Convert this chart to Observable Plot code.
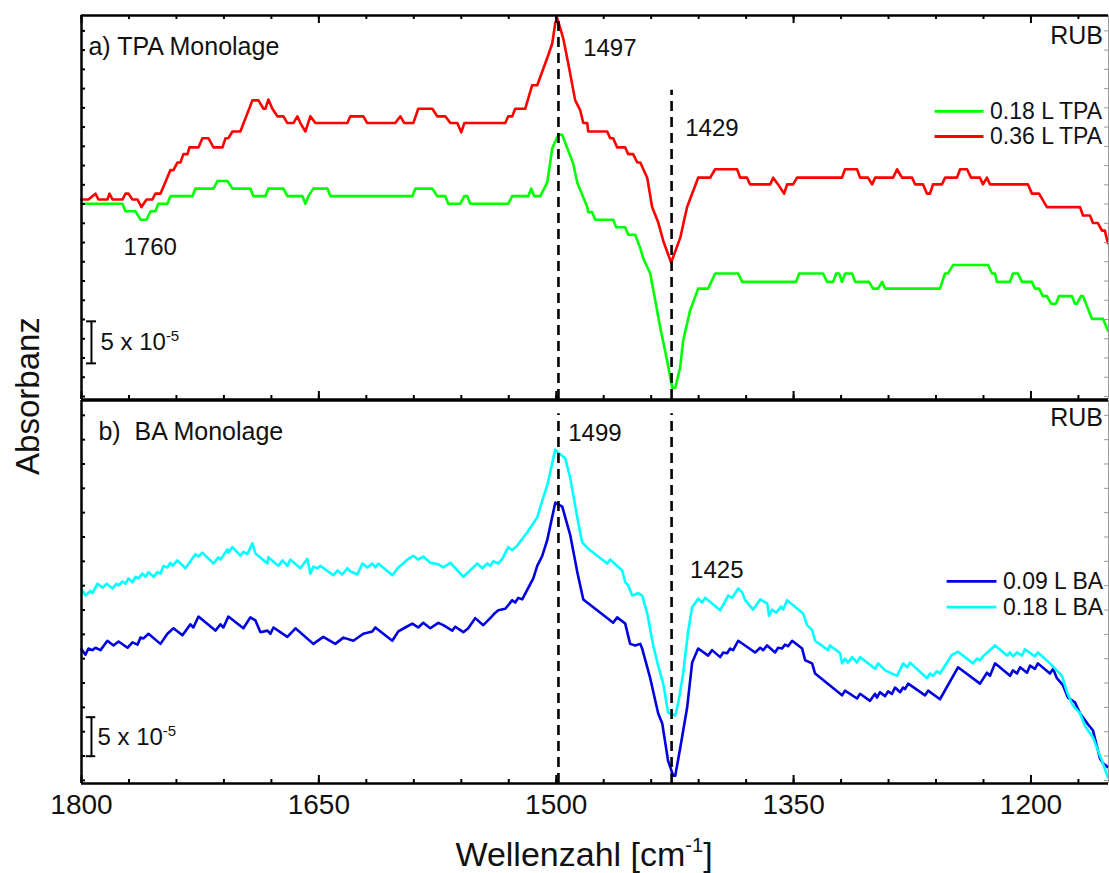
<!DOCTYPE html>
<html><head><meta charset="utf-8">
<script src="https://cdn.jsdelivr.net/npm/d3@7"></script>
<script src="https://cdn.jsdelivr.net/npm/@observablehq/plot@0.6"></script>
<style>
body{margin:0;background:#fff;}
#wrap{position:relative;width:1109px;height:873px;background:#fff;font-family:"Liberation Sans",Arial,sans-serif;color:#111;overflow:hidden;}
#wrap svg{position:absolute;left:0;}
.ttl{position:absolute;white-space:nowrap;line-height:32px;font-family:"Liberation Sans",Arial,sans-serif;color:#111;}
</style></head><body><div id="wrap"></div>
<script>
// ---- x axis (wavenumber, cm^-1), reversed ----
const xDomain = [1800, 1151];
const xMajor = [1800, 1650, 1500, 1350, 1200];
const xMinor = d3.range(1800, 1150, -30);

// ---- y (absorbance, units of 1e-5, arbitrary offset) ----
const yDomainA = [0, 45.7];
const yDomainB = [0, 49.1];
const yTicksA = d3.range(0.36, 45.7, 2.29);
const yTicksB = d3.range(0.4, 49.1, 3.12);

// ---- panel a: TPA ----
const tpa018 = [[1800,23.3],[1774.1,23.3],[1772.2,22.4],[1765.9,22.4],[1762.7,21.4],[1758.9,21.4],[1756.4,22.4],[1753.3,22.4],[1751.4,23.3],[1745.7,23.3],[1743.8,24.2],[1729.9,24.2],[1728.0,25.1],[1716.6,25.1],[1714.1,26.0],[1707.8,26.0],[1704.6,25.1],[1693.3,25.1],[1691.4,24.2],[1683.8,24.2],[1681.9,25.1],[1672.4,25.1],[1669.9,24.2],[1660.4,24.2],[1658.5,23.3],[1656.6,24.2],[1653.5,25.1],[1644.6,25.1],[1642.7,24.2],[1590.9,24.2],[1589.0,25.1],[1578.3,25.1],[1575.2,24.2],[1570.1,24.2],[1568.2,23.3],[1560.6,23.3],[1558.1,24.2],[1556.2,24.2],[1554.3,23.3],[1530.3,23.3],[1527.8,24.2],[1517.7,24.2],[1515.8,25.1],[1513.9,24.2],[1510.1,24.2],[1505.7,25.8],[1502.5,29.9],[1498.7,31.5],[1496.2,31.5],[1492.4,29.6],[1489.3,28.1],[1486.7,25.8],[1480.4,22.9],[1479.8,22.3],[1477.3,22.3],[1475.4,21.4],[1464.0,21.4],[1462.1,20.5],[1456.4,20.5],[1454.5,19.6],[1450.1,19.6],[1446.9,18.0],[1445.0,16.8],[1440.6,15.0],[1434.3,8.6],[1429.9,4.6],[1426.7,1.4],[1424.8,1.4],[1421.7,3.8],[1419.8,7.0],[1415.4,10.6],[1410.3,13.2],[1404.0,13.2],[1399.6,15.0],[1385.0,15.0],[1382.5,14.0],[1348.4,14.0],[1346.5,15.0],[1331.4,15.0],[1328.8,14.0],[1325.0,14.0],[1323.1,15.0],[1321.2,15.0],[1319.4,14.0],[1317.5,15.0],[1313.0,15.0],[1311.1,14.0],[1302.3,14.0],[1299.8,13.2],[1296.6,13.2],[1294.1,14.0],[1292.2,13.2],[1257.5,13.2],[1254.3,15.0],[1252.4,15.0],[1249.3,16.0],[1227.1,16.0],[1224.6,15.0],[1222.7,15.0],[1221.5,14.0],[1213.2,14.0],[1211.4,15.0],[1208.2,15.0],[1205.7,14.0],[1199.4,14.0],[1197.5,13.2],[1194.9,13.2],[1192.4,12.3],[1189.9,12.3],[1187.3,11.4],[1184.2,11.4],[1182.3,12.3],[1174.1,12.3],[1172.2,11.4],[1170.9,11.4],[1168.4,12.3],[1167.1,12.3],[1161.5,9.6],[1154.5,9.6],[1151.4,8.2]];

const tpa036 = [[1800,23.8],[1795.6,23.8],[1791.2,24.5],[1789.3,23.8],[1783.6,23.8],[1782.3,24.5],[1780.4,23.8],[1774.1,23.8],[1772.2,24.5],[1770.3,24.5],[1767.8,23.8],[1764.6,23.8],[1762.1,22.9],[1758.9,23.8],[1755.2,23.8],[1753.3,24.5],[1750.1,24.5],[1743.8,27.3],[1741.9,27.3],[1739.4,28.2],[1737.5,28.2],[1735.6,29.2],[1733.0,29.2],[1731.8,30.0],[1726.1,30.0],[1723.6,31.1],[1719.8,31.1],[1716.6,30.0],[1710.9,30.0],[1709.0,31.1],[1707.2,31.1],[1704.6,31.9],[1699.6,31.9],[1692.0,35.6],[1688.2,35.6],[1685.0,34.6],[1683.8,34.6],[1681.9,35.7],[1679.4,34.6],[1676.2,33.7],[1672.4,33.7],[1669.9,32.9],[1666.1,32.9],[1663.6,33.7],[1661.7,32.9],[1658.5,31.9],[1655.4,33.7],[1652.2,32.9],[1632.0,32.9],[1630.1,33.7],[1621.9,33.7],[1619.4,32.9],[1601.7,32.9],[1598.5,33.7],[1596.0,32.9],[1590.3,32.9],[1587.2,34.6],[1578.3,34.6],[1575.2,33.7],[1570.1,33.7],[1566.9,32.9],[1562.5,32.9],[1560.0,31.8],[1558.1,32.9],[1532.2,32.9],[1530.3,33.7],[1527.8,33.7],[1525.9,34.6],[1519.6,34.6],[1515.2,37.4],[1512.0,37.4],[1505.0,41.0],[1502.5,42.4],[1500.6,44.8],[1499.4,45.4],[1495.6,43.0],[1492.4,40.0],[1488.0,35.6],[1484.8,34.4],[1482.9,32.9],[1480.4,32.9],[1479.8,31.9],[1467.8,31.9],[1465.9,31.1],[1464.0,31.1],[1461.5,30.0],[1456.4,30.0],[1454.5,29.2],[1451.4,29.2],[1448.8,28.2],[1446.9,28.2],[1442.5,26.4],[1439.4,22.9],[1435.6,21.1],[1432.4,18.9],[1427.4,16.3],[1421.7,19.2],[1417.3,22.9],[1410.3,26.4],[1402.7,26.4],[1399.6,27.4],[1385.7,27.4],[1383.8,26.4],[1379.4,26.4],[1377.5,25.6],[1364.8,25.6],[1362.9,26.4],[1359.8,25.6],[1356.0,24.5],[1354.1,25.6],[1350.3,25.6],[1347.8,26.4],[1319.4,26.4],[1317.5,27.4],[1309.9,27.4],[1308.0,26.4],[1303.0,26.4],[1300.4,25.6],[1298.5,26.4],[1287.1,26.4],[1284.6,27.4],[1281.5,26.4],[1275.1,26.4],[1273.2,25.6],[1268.2,25.6],[1265.7,24.5],[1263.8,24.5],[1261.9,25.6],[1256.2,25.6],[1254.3,26.4],[1246.7,26.4],[1244.8,27.4],[1240.4,27.4],[1237.9,26.4],[1232.2,26.4],[1230.3,25.6],[1227.8,26.4],[1225.9,25.6],[1201.9,25.6],[1199.4,24.5],[1194.9,24.5],[1189.9,22.9],[1169.0,22.9],[1167.1,21.9],[1162.7,21.9],[1160.8,21.0],[1157.7,21.0],[1155.1,20.1],[1153.3,20.1],[1151.4,18.6]];

// ---- panel b: BA ----
const ba009 = [[1800,17.2],[1797.5,16.5],[1795.6,17.3],[1793.1,17.1],[1791.2,17.4],[1788.0,17.1],[1783.6,18.3],[1779.8,17.7],[1776.6,18.2],[1770.9,17.4],[1767.8,18.1],[1764.6,17.8],[1762.7,18.7],[1760.8,18.6],[1757.7,19.2],[1750.1,17.9],[1745.7,19.2],[1741.9,19.9],[1736.2,19.0],[1731.2,20.4],[1729.3,20.0],[1726.1,21.4],[1715.4,19.6],[1712.2,20.4],[1710.3,20.0],[1707.2,21.4],[1697.7,19.9],[1693.3,21.3],[1690.1,20.9],[1686.9,19.4],[1682.5,19.6],[1680.6,19.2],[1678.7,20.0],[1669.9,18.8],[1664.8,19.9],[1653.5,17.9],[1647.2,18.8],[1639.6,17.9],[1634.5,18.7],[1628.2,18.3],[1621.9,19.2],[1616.2,19.5],[1614.3,20.0],[1603.6,18.3],[1599.8,19.5],[1595.4,20.0],[1590.9,20.5],[1587.2,20.0],[1584.0,20.6],[1579.6,19.9],[1574.5,20.6],[1571.4,20.3],[1565.7,19.6],[1563.8,20.1],[1558.7,19.4],[1555.6,19.9],[1551.2,21.2],[1546.1,20.3],[1541.7,21.2],[1538.5,21.9],[1536.6,22.2],[1532.2,22.4],[1527.8,23.5],[1525.9,23.2],[1524.0,23.8],[1521.5,23.6],[1514.5,26.3],[1512.0,27.9],[1508.8,29.2],[1505.7,31.2],[1500.6,36.0],[1496.2,35.5],[1491.1,31.8],[1486.7,27.1],[1482.9,23.6],[1464.0,20.6],[1461.5,21.3],[1456.4,20.5],[1453.3,17.9],[1450.1,17.7],[1446.9,17.9],[1445.7,17.3],[1440.6,13.5],[1435.6,9.0],[1433.0,7.7],[1429.3,2.9],[1426.1,1.0],[1424.8,1.0],[1421.7,4.5],[1417.3,9.7],[1414.1,15.5],[1410.3,17.3],[1404.0,16.4],[1401.5,17.1],[1396.4,16.2],[1394.5,16.8],[1392.0,16.7],[1390.1,17.3],[1388.2,17.1],[1385.0,18.3],[1374.3,16.8],[1371.1,17.4],[1369.2,17.1],[1366.7,17.7],[1361.7,16.8],[1359.8,17.4],[1357.3,17.3],[1355.4,17.8],[1353.5,17.6],[1350.9,18.3],[1344.6,17.3],[1342.7,15.8],[1338.3,15.4],[1336.4,14.1],[1319.4,11.3],[1317.5,11.9],[1309.9,10.9],[1308.0,11.5],[1301.7,10.6],[1298.5,11.5],[1297.3,11.0],[1295.4,11.7],[1292.2,11.2],[1290.3,11.8],[1287.8,11.5],[1285.9,12.3],[1282.7,11.7],[1280.8,12.3],[1279.6,12.1],[1277.6,12.8],[1266.9,11.3],[1265.0,11.9],[1257.5,10.8],[1246.1,14.9],[1232.2,12.8],[1227.8,14.2],[1225.9,13.8],[1222.7,15.4],[1213.2,13.8],[1211.4,14.5],[1208.8,14.1],[1206.9,14.9],[1202.5,14.2],[1200.6,15.1],[1197.5,14.7],[1195.6,15.4],[1188.0,14.1],[1186.1,14.7],[1183.6,13.5],[1179.8,12.6],[1176.6,11.0],[1172.2,10.4],[1169.0,9.0],[1164.0,7.6],[1160.8,6.8],[1156.4,3.2],[1154.5,2.6],[1151.4,2.1]];

const ba018 = [[1800,24.9],[1797.5,24.1],[1794.3,24.7],[1793.1,24.4],[1789.9,25.6],[1786.7,25.1],[1784.2,25.6],[1780.4,25.0],[1777.9,25.6],[1776.6,25.4],[1774.1,25.9],[1772.2,25.6],[1770.3,26.3],[1767.8,25.8],[1765.9,26.5],[1764.0,26.3],[1761.5,26.9],[1759.6,26.5],[1757.7,27.1],[1754.5,26.5],[1752.0,27.1],[1750.1,26.9],[1748.2,27.9],[1745.7,27.7],[1743.8,28.3],[1742.5,27.9],[1739.4,28.6],[1734.3,27.6],[1728.0,29.4],[1726.1,29.1],[1723.6,29.6],[1716.6,28.2],[1713.5,29.0],[1712.2,28.7],[1707.8,30.0],[1707.2,29.6],[1704.6,30.3],[1699.6,29.2],[1697.7,29.7],[1695.2,29.4],[1692.0,30.8],[1690.1,29.5],[1682.5,28.2],[1681.9,29.0],[1675.6,27.9],[1673.0,28.6],[1669.9,27.9],[1668.0,28.7],[1661.7,27.6],[1657.3,28.8],[1655.4,26.9],[1653.5,27.8],[1650.9,27.6],[1649.0,27.9],[1640.8,26.7],[1638.3,27.3],[1635.2,26.8],[1632.0,27.6],[1630.1,27.2],[1625.7,26.8],[1622.5,28.2],[1619.4,27.7],[1616.2,28.2],[1614.3,27.7],[1612.4,28.2],[1603.6,26.7],[1599.8,27.7],[1597.3,28.1],[1594.1,28.7],[1590.3,29.2],[1587.2,28.7],[1584.0,29.1],[1579.6,28.3],[1574.5,28.1],[1571.4,27.7],[1566.9,28.3],[1558.7,26.5],[1555.6,27.1],[1549.9,28.2],[1546.7,27.6],[1543.6,28.2],[1541.7,27.9],[1539.8,28.5],[1536.6,28.2],[1534.1,28.8],[1530.3,30.3],[1527.8,29.9],[1524.6,30.5],[1518.3,32.2],[1512.0,34.1],[1508.8,36.3],[1505.7,38.2],[1500.6,42.8],[1498.7,42.4],[1494.3,41.7],[1491.1,39.1],[1486.7,34.1],[1483.6,30.9],[1479.8,30.1],[1467.8,28.2],[1465.9,28.7],[1458.3,27.3],[1456.4,25.8],[1454.5,25.4],[1452.0,24.1],[1448.2,24.4],[1445.7,24.1],[1442.5,21.8],[1438.7,17.7],[1435.6,15.1],[1432.4,12.8],[1429.3,9.1],[1424.8,8.7],[1422.9,10.3],[1419.8,14.1],[1416.6,19.6],[1414.1,22.6],[1410.3,23.7],[1407.8,23.2],[1405.9,23.8],[1396.4,22.2],[1391.3,24.1],[1388.8,23.8],[1385.0,25.0],[1382.5,24.5],[1380.6,23.5],[1375.6,22.3],[1371.1,23.6],[1366.7,23.1],[1365.5,21.5],[1363.6,22.3],[1361.0,21.9],[1357.9,22.7],[1356.6,22.3],[1354.1,23.5],[1344.0,21.8],[1341.5,20.3],[1338.3,19.7],[1336.4,18.3],[1328.2,17.1],[1327.0,17.7],[1320.6,16.7],[1319.4,15.4],[1317.5,16.0],[1315.6,15.5],[1313.0,16.2],[1309.9,15.5],[1308.0,16.2],[1298.5,14.7],[1296.6,15.4],[1292.2,14.5],[1284.6,13.8],[1280.8,15.4],[1278.3,14.9],[1276.4,15.5],[1265.7,13.5],[1263.8,14.1],[1261.9,13.8],[1259.4,14.4],[1257.5,14.1],[1249.9,16.5],[1246.1,16.9],[1236.6,15.4],[1234.1,16.0],[1232.2,15.8],[1230.3,16.3],[1222.7,17.7],[1215.1,16.4],[1213.2,16.8],[1211.4,16.3],[1208.8,16.8],[1205.7,16.4],[1203.8,17.2],[1197.5,16.3],[1195.6,16.8],[1188.0,15.4],[1180.4,13.8],[1177.2,11.7],[1173.5,10.0],[1169.0,9.0],[1165.9,7.4],[1160.8,5.9],[1155.1,2.9],[1151.4,0.8]];

// ---- annotations ----
const markersA = [{x:1498.6,y1:0,y2:45.7},{x:1427.1,y1:0,y2:36.8}];
const markersB = [{x:1498.6,y1:0,y2:47.4},{x:1427.1,y1:0,y2:47.4}];
const labelsA = [{x:1795.6,y:41.9,text:"a) TPA Monolage",size:25},{x:1483.0,y:41.8,text:"1497",size:24},{x:1418.5,y:32.3,text:"1429",size:24},{x:1773.5,y:18.1,text:"1760",size:24}];
const labelsB = [{x:1789.3,y:45.0,text:"b)\u00A0 BA Monolage",size:25},{x:1492.4,y:44.9,text:"1499",size:24},{x:1415.4,y:27.3,text:"1425",size:24}];
const rubA = [{x:1154.5,y:43.3,text:"RUB"}];
const rubB = [{x:1154.5,y:46.9,text:"RUB"}];
const legendA = [{y:34.3,x1:1260.6,x2:1229.7,tx:1225.9,color:"#00ff00",label:"0.18 L TPA"},{y:31.3,x1:1260.6,x2:1229.7,tx:1225.9,color:"#ff0000",label:"0.36 L TPA"}];
const legendB = [{y:25.9,x1:1253.0,x2:1221.5,tx:1217.7,color:"#0000e0",label:"0.09 L BA"},{y:22.6,x1:1253.0,x2:1221.5,tx:1217.7,color:"#00ffff",label:"0.18 L BA"}];
const scaleA = [{x:1793.7,y1:4.3,y2:9.3,cx1:1796.8,cx2:1790.5,tx:1788.0,ty:6.8,text:"5 x 10^-5"}];
const scaleB = [{x:1793.7,y1:3.5,y2:8.5,cx1:1797.0,cx2:1791.0,tx:1789.9,ty:5.9,text:"5 x 10^-5"}];

const FONT = '"Liberation Sans", Arial, sans-serif';
const PW = 1027;

function frameMarks(yDomain, plotH, topTicks) {
  const m = [
    Plot.ruleY([yDomain[0]], {stroke:"#000", strokeWidth:2.5}),
    Plot.ruleY([yDomain[1]], {stroke:"#000", strokeWidth:2.5}),
    Plot.ruleX([xDomain[0]], {stroke:"#000", strokeWidth:2.5}),
    Plot.ruleX([xDomain[1]], {stroke:"#999", strokeWidth:1}),
    Plot.tickX(xMinor, {x:d=>d, insetTop:plotH-4, stroke:"#000", strokeWidth:2}),
    Plot.tickX(xMajor, {x:d=>d, insetTop:plotH-8, stroke:"#000", strokeWidth:2}),
  ];
  if (topTicks) {
    m.push(Plot.tickX(xMinor, {x:d=>d, insetBottom:plotH-4, stroke:"#000", strokeWidth:2}));
    m.push(Plot.tickX(xMajor, {x:d=>d, insetBottom:plotH-8, stroke:"#000", strokeWidth:2}));
  }
  return m;
}

function panelMarks(o) {
  return [
    ...o.series.map(s => Plot.line(s.data, {x:d=>d[0], y:d=>d[1], stroke:s.color, strokeWidth:2.6})),
    Plot.ruleX(o.markers, {x:"x", y1:"y1", y2:"y2", stroke:"#000", strokeWidth:2.6, strokeDasharray:"10,6"}),
    Plot.ruleY(o.legend, {y:"y", x1:"x1", x2:"x2", stroke:"color", strokeWidth:2.8}),
    Plot.text(o.legend, {x:"tx", y:"y", text:"label", textAnchor:"start", fontSize:23, fill:"#111"}),
    Plot.text(o.labels, {x:"x", y:"y", text:"text", textAnchor:"start", fontSize:"size", fill:"#111"}),
    Plot.text(o.rub, {x:"x", y:"y", text:"text", textAnchor:"end", fontSize:25, fill:"#111"}),
    Plot.ruleX(o.scale, {x:"x", y1:"y1", y2:"y2", stroke:"#000", strokeWidth:2}),
    Plot.ruleY(o.scale, {y:"y1", x1:"cx1", x2:"cx2", stroke:"#000", strokeWidth:2}),
    Plot.ruleY(o.scale, {y:"y2", x1:"cx1", x2:"cx2", stroke:"#000", strokeWidth:2}),
    Plot.text(o.scale, {x:"tx", y:"ty", text:"text", textAnchor:"start", fontSize:24, fill:"#111"}),
    Plot.tickY(o.yTicks, {y:d=>d, insetRight:PW-4, stroke:"#000", strokeWidth:2}),
    Plot.tickY(o.yTicks, {y:d=>d, insetLeft:PW-4, stroke:"#999", strokeWidth:1}),
    ...frameMarks(o.yDomain, o.plotH, o.topTicks)
  ];
}

const topPlot = Plot.plot({
  width:1109, height:400, marginLeft:81, marginRight:1, marginTop:15, marginBottom:1,
  x:{domain:xDomain, axis:null},
  y:{domain:yDomainA, axis:null},
  color:{type:"identity"},
  style:{fontFamily:FONT, background:"transparent", overflow:"visible"},
  marks: panelMarks({
    series:[{data:tpa018,color:"#00ff00"},{data:tpa036,color:"#ff0000"}],
    markers:markersA, legend:legendA, labels:labelsA, rub:rubA, scale:scaleA,
    yTicks:yTicksA, yDomain:yDomainA, plotH:384, topTicks:true
  })
});

const bottomPlot = Plot.plot({
  width:1109, height:474, marginLeft:81, marginRight:1, marginTop:1, marginBottom:90,
  x:{domain:xDomain},
  y:{domain:yDomainB, axis:null},
  color:{type:"identity"},
  style:{fontFamily:FONT, background:"transparent", overflow:"visible"},
  marks: [
    ...panelMarks({
      series:[{data:ba009,color:"#0000e0"},{data:ba018,color:"#00ffff"}],
      markers:markersB, legend:legendB, labels:labelsB, rub:rubB, scale:scaleB,
      yTicks:yTicksB, yDomain:yDomainB, plotH:383, topTicks:false
    }),
    Plot.axisX({ticks:xMajor, anchor:"bottom", tickSize:0, tickPadding:11, fontSize:28, tickFormat:d=>String(d), label:null, fill:"#111"})
  ]
});

function fixSup(svg){
  d3.select(svg).selectAll("text").each(function(){
    const t = this.textContent;
    if (t.includes("^")) {
      const [base, sup] = t.split("^");
      this.textContent = base;
      d3.select(this).append("tspan").attr("dy","-9").attr("font-size","15").text(sup);
    }
  });
}
fixSup(topPlot); fixSup(bottomPlot);

const wrap = document.getElementById("wrap");
topPlot.style.top = "0px";
bottomPlot.style.top = "399px";
wrap.appendChild(topPlot);
wrap.appendChild(bottomPlot);

const xt = document.createElement("div");
xt.className = "ttl";
xt.style.cssText += "left:584px;top:838px;font-size:34px;transform:translateX(-50%);";
xt.innerHTML = 'Wellenzahl [cm<sup style="font-size:20px;vertical-align:0;position:relative;top:-14px">-1</sup>]';
wrap.appendChild(xt);

const yt = document.createElement("div");
yt.className = "ttl";
yt.style.cssText += "left:-122px;top:380px;width:300px;text-align:center;font-size:33px;transform:rotate(-90deg);";
yt.textContent = "Absorbanz";
wrap.appendChild(yt);
</script></body></html>
